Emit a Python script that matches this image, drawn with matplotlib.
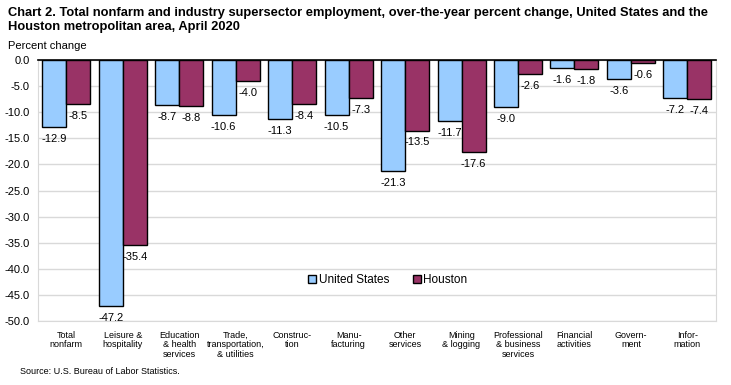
import numpy as np
import matplotlib
matplotlib.use("Agg")
from matplotlib import pyplot as plt

plt.rcParams['font.family'] = ['Liberation Sans', 'DejaVu Sans']

categories = ["Total\nnonfarm", "Leisure &\nhospitality", "Education\n& health\nservices",
              "Trade,\ntransportation,\n& utilities", "Construc-\ntion", "Manu-\nfacturing",
              "Other\nservices", "Mining\n& logging", "Professional\n& business\nservices",
              "Financial\nactivities", "Govern-\nment", "Infor-\nmation"]
us = [-12.9, -47.2, -8.7, -10.6, -11.3, -10.5, -21.3, -11.7, -9.0, -1.6, -3.6, -7.2]
houston = [-8.5, -35.4, -8.8, -4.0, -8.4, -7.3, -13.5, -17.6, -2.6, -1.8, -0.6, -7.4]
yticks = np.arange(0, -55, -5)

fig = plt.figure(figsize=(7.31, 3.85), dpi=100)
ax = fig.add_axes([0.052, 0.166, 0.927, 0.678])

x = np.arange(len(categories))
w = 0.425
b1 = ax.bar(x - w/2, us, w, color="#99CCFF", edgecolor="black", linewidth=1, label="United States", zorder=3)
b2 = ax.bar(x + w/2, houston, w, color="#993366", edgecolor="black", linewidth=1, label="Houston", zorder=3)

for bars in (b1, b2):
    for r in bars:
        v = r.get_height()
        ax.annotate(f"{v:.1f}", (r.get_x() + r.get_width()/2, v), xytext=(0, -5),
                    textcoords="offset points", ha="center", va="top", fontsize=8)

ax.set_xlim(-0.5, len(categories) - 0.5)
ax.set_ylim(-50, 0)
ax.set_yticks(yticks)
ax.set_yticklabels([f"{t:.1f}" for t in yticks], fontsize=8)
ax.yaxis.grid(True, color="#D9D9D9", linewidth=1, zorder=0)
ax.tick_params(axis="y", length=0, pad=6)
ax.set_xticks(x)
ax.set_xticklabels(categories, fontsize=6.5, linespacing=1.05)
ax.tick_params(axis="x", length=0, pad=7)

ax.spines["top"].set_color("black")
ax.spines["top"].set_linewidth(1.2)
ax.spines["top"].set_zorder(4)
for s in ("left", "right", "bottom"):
    ax.spines[s].set_color("#D9D9D9")

leg = ax.legend(loc="center", bbox_to_anchor=(0.516, 0.157), ncol=2, frameon=False,
                fontsize=8.5, handlelength=0.7, handleheight=0.7, handletextpad=0.2,
                columnspacing=2.0)

fig.text(0.011, 0.983, "Chart 2. Total nonfarm and industry supersector employment, over-the-year percent change, United States and the\nHouston metropolitan area, April 2020",
         fontsize=9.3, fontweight="bold", va="top", linespacing=1.3)
fig.text(0.011, 0.881, "Percent change", fontsize=8, va="center")
fig.text(0.027, 0.036, "Source: U.S. Bureau of Labor Statistics.", fontsize=6.5, va="center")

fig.savefig("out.png", dpi=100)
